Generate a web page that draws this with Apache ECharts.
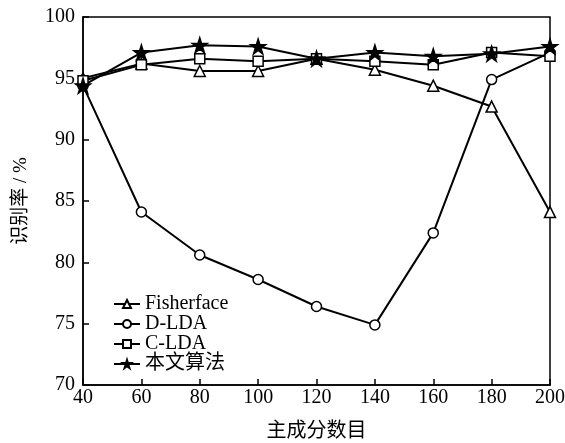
<!DOCTYPE html>
<html>
<head>
    <meta charset="utf-8">
    <title>识别率</title>
    <script src="https://cdn.jsdelivr.net/npm/echarts@6/dist/echarts.min.js"></script>
</head>
<body style="margin:0">
    <div id="main" style="width:565px;height:443px;"></div>
    <script type="text/javascript">
        // 数据
        var dims = [40, 60, 80, 100, 120, 140, 160, 180, 200];
        var fisherface = [95.0, 96.2, 95.6, 95.6, 96.6, 95.7, 94.4, 92.7, 84.1];
        var dlda = [94.4, 84.1, 80.6, 78.6, 76.4, 74.9, 82.4, 94.9, 97.1];
        var clda = [94.8, 96.1, 96.6, 96.4, 96.6, 96.4, 96.1, 97.1, 96.8];
        var ours = [94.4, 97.1, 97.7, 97.6, 96.6, 97.1, 96.8, 97.0, 97.6];

        var starPath = 'path://M50 0 L61.17 34.63 L97.55 34.55 L68.07 55.87 L79.39 90.45 L50 69 L20.61 90.45 L31.93 55.87 L2.45 34.55 L38.83 34.63 Z';
        var serif = '"Liberation Serif", "Noto Sans CJK SC", serif';

        function pairs(vals) {
            return dims.map(function (d, i) { return [d, vals[i]]; });
        }

        function makeSeries(name, vals, symbol, size, fill) {
            return {
                name: name,
                type: 'line',
                data: pairs(vals),
                symbol: symbol,
                symbolSize: size,
                showAllSymbol: true,
                lineStyle: { color: '#000', width: 2 },
                itemStyle: { color: fill, borderColor: '#000', borderWidth: 1.5 },
                emphasis: { disabled: true }
            };
        }

        var myChart = echarts.init(document.getElementById('main'));

        var option = {
            animation: false,
            grid: {
                left: 83, right: 15, top: 17, bottom: 58,
                outerBoundsMode: 'none',
                containLabel: false,
                show: true, borderColor: '#000', borderWidth: 1.5
            },
            legend: {
                orient: 'vertical',
                left: 108, top: 289,
                itemWidth: 26, itemHeight: 10, itemGap: 0,
                textStyle: { fontFamily: serif, fontSize: 20, color: '#000' },
                data: ['Fisherface', 'D-LDA', 'C-LDA', '本文算法']
            },
            xAxis: {
                type: 'value',
                min: 40, max: 200, interval: 20,
                name: '主成分数目',
                nameLocation: 'middle',
                nameGap: 37,
                nameTextStyle: { fontFamily: serif, fontSize: 20, color: '#000' },
                axisLine: { lineStyle: { color: '#000', width: 1.5 } },
                axisTick: { inside: true, length: 6, lineStyle: { color: '#000', width: 1.5 } },
                axisLabel: { fontFamily: serif, fontSize: 20, color: '#000', margin: 3 },
                splitLine: { show: false }
            },
            yAxis: {
                type: 'value',
                min: 70, max: 100, interval: 5,
                name: '识别率 / %',
                nameLocation: 'middle',
                nameGap: 52,
                nameTextStyle: { fontFamily: serif, fontSize: 19, color: '#000' },
                axisLine: { lineStyle: { color: '#000', width: 1.5 } },
                axisTick: { inside: true, length: 6, lineStyle: { color: '#000', width: 1.5 } },
                axisLabel: { fontFamily: serif, fontSize: 20, color: '#000', margin: 8 },
                splitLine: { show: false }
            },
            series: [
                makeSeries('Fisherface', fisherface, 'triangle', 11, '#fff'),
                makeSeries('D-LDA', dlda, 'circle', 10, '#fff'),
                makeSeries('C-LDA', clda, 'rect', 10, '#fff'),
                makeSeries('本文算法', ours, starPath, 15, '#000')
            ]
        };

        myChart.setOption(option);
    </script>
</body>
</html>
